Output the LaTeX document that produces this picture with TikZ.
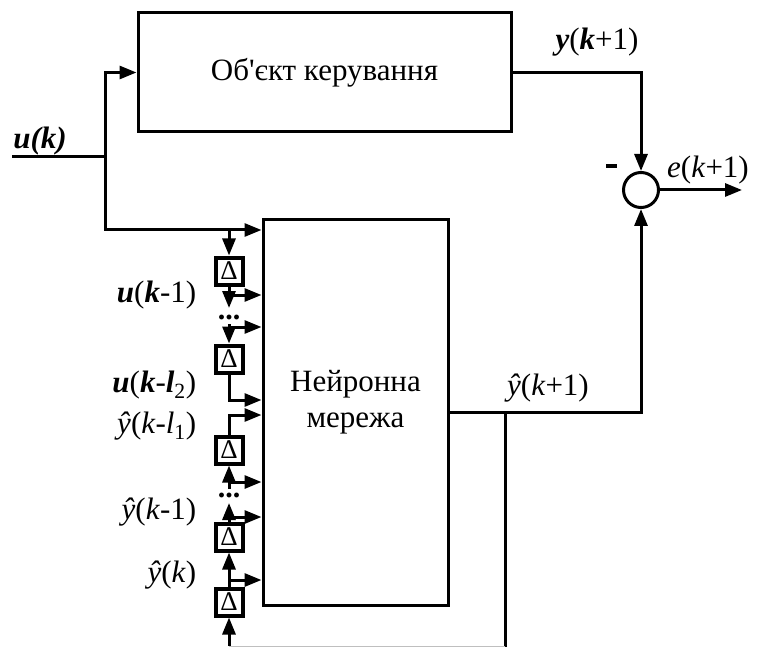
\documentclass[tikz,border=0pt]{standalone}
\usepackage{fontspec}
\setmainfont{Liberation Serif}
\usetikzlibrary{arrows.meta}
\newcommand{\bi}[1]{\textbf{\textit{#1}}}
\newcommand{\yh}{\textit{ŷ}}

\begin{document}
\begin{tikzpicture}[x=1pt,y=-1pt,line width=3pt,
  font=\fontsize{31}{36}\selectfont,
  sig/.style={-{Triangle[length=17pt,width=13pt]}},
  blk/.style={draw,inner sep=0pt},
  dly/.style={draw,line width=4pt,minimum size=27pt,inner sep=0pt,font=\fontsize{27}{27}\selectfont},
  dotsb/.style={inner sep=0pt,font=\bfseries\fontsize{30}{30}\selectfont}]
  \useasboundingbox (0,0) rectangle (763,647);
  \node[blk,minimum width=373pt,minimum height=119pt] (plant) at (324.5,72.5) {Об\textquotesingle єкт керування};
  \node[blk,minimum width=185pt,minimum height=385pt,
    label={[align=center,yshift=10pt]center:Нейронна\\мережа}] (nn) at (355.5,412.5) {};
  \node[draw,circle,minimum size=35pt,inner sep=0pt] (sum) at (641,190) {};
  \node[fill,minimum width=11pt,minimum height=4pt,inner sep=0pt] (minus) at (611,166) {};
  \foreach \n/\y in {1/271,2/359,3/450,4/537,5/602}
    \node[dly] (d\n) at (229,\y) {Δ};
  \foreach \n/\y in {t0/230,t1/295,t2/327,t3/400,t4/415,t5/482,t6/517,t7/580,
      q1/308,q2/324,q3/489,q4/503,fb3/646}
    \coordinate (\n) at (229,\y);
  \node[dotsb] (dots1) at (229,317) {...};
  \node[dotsb] (dots2) at (229,495) {...};
  \coordinate (uin) at (12,157);
  \coordinate (br) at (105,157);
  \coordinate (fb) at (505,412.5);
  \coordinate (fb2) at (505,647);
  \coordinate (eout) at (742,190);
  % signals
  \draw (uin) -- (br);
  \draw[sig] (br) |- (plant.west);
  \draw[sig] (br) |- (t0 -| nn.west);
  \draw[sig] (plant.east) -| (sum);
  \draw[sig] (sum) -- (eout);
  \draw[sig] (nn.east) -| (sum);
  \draw (fb) -- (fb2);
  \draw[black!25,line width=1pt] (fb |- fb3) -- (fb3);
  \draw[sig] (fb3) -- (d5);
  \draw[sig] (t0) -- (d1);
  \draw[sig] (d1) -- (q1);
  \draw[sig] (q2) -- (d2);
  \draw[sig] (d2) -- (t3) -- (t3 -| nn.west);
  \draw[sig] (d3) -- (t4) -- (t4 -| nn.west);
  \draw[sig] (q3) -- (d3);
  \draw[sig] (d4) -- (q4);
  \draw[sig] (d5) -- (d4);
  \foreach \t in {t1,t2,t5,t6,t7}
    \draw[sig] (\t) -- (\t -| nn.west);
  % labels
  \node (lu) at (40,141) {\bi{u(k)}};
  \node (ly) at (597,42) {\bi{y}(\bi{k}+1)};
  \node (le) at (708,170) {\textit{e}(\textit{k}+1)};
  \node (lyh) at (548,388) {\yh(\textit{k}+1)};
  \foreach \y/\lab [count=\i] in {295/{\bi{u}(\bi{k}-1)},
      385/{\bi{u}(\bi{k}-\bi{l}\textsubscript{2})},
      426/{\yh(\textit{k}-\textit{l}\textsubscript{1})},
      512/{\yh(\textit{k}-1)},
      575/{\yh(\textit{k})}}
    \node[anchor=east] (lab\i) at (201,\y) {\lab};
\end{tikzpicture}
\end{document}
